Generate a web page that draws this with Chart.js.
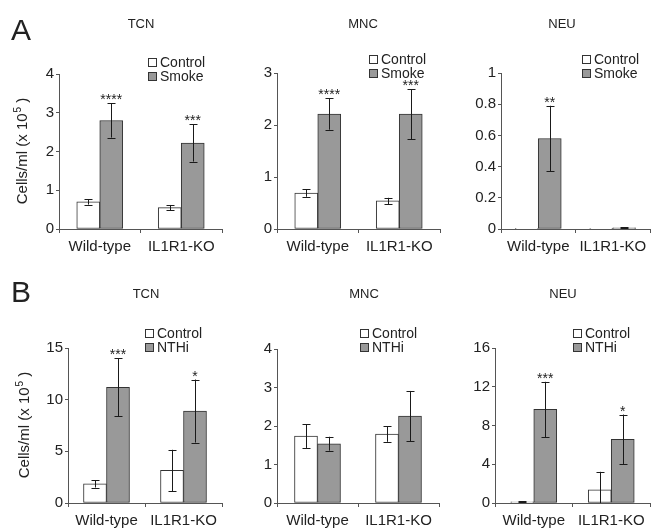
<!DOCTYPE html>
<html>
<head>
<meta charset="utf-8">
<script src="https://cdn.jsdelivr.net/npm/chart.js@4.4.0/dist/chart.umd.min.js"></script>
<style>
body { margin: 0; background: #fff; }
#wrap { position: relative; width: 660px; height: 530px; }
#wrap canvas { position: absolute; left: 0; top: 0; }
</style>
</head>
<body>
<div id="wrap"></div>
<script>
// categorias comunes
const groups = ['Wild-type', 'IL1R1-KO'];

// A - humo de cigarro
const tcnCtrlA = [0.70, 0.55];
const tcnCtrlErrA = [0.07, 0.07];
const tcnSmoke = [2.80, 2.22];
const tcnSmokeErr = [0.44, 0.48];
const tcnStarsA = ['****', '***'];

const mncCtrlA = [0.69, 0.54];
const mncCtrlErrA = [0.07, 0.06];
const mncSmoke = [2.21, 2.21];
const mncSmokeErr = [0.30, 0.48];
const mncStarsA = ['****', '***'];

const neuCtrlA = [0.002, 0.002];
const neuCtrlErrA = [0, 0];
const neuSmoke = [0.58, 0.008];
const neuSmokeErr = [0.21, 0.002];
const neuStarsA = ['**', ''];

// B - NTHi
const tcnCtrlB = [1.85, 3.15];
const tcnCtrlErrB = [0.35, 2.0];
const tcnNthi = [11.2, 8.9];
const tcnNthiErr = [2.8, 3.05];
const tcnStarsB = ['***', '*'];

const mncCtrlB = [1.74, 1.79];
const mncCtrlErrB = [0.31, 0.20];
const mncNthi = [1.54, 2.26];
const mncNthiErr = [0.18, 0.65];
const mncStarsB = ['', ''];

const neuCtrlB = [0.12, 1.37];
const neuCtrlErrB = [0.06, 1.85];
const neuNthi = [9.66, 6.58];
const neuNthiErr = [2.85, 2.55];
const neuStarsB = ['***', '*'];

const FONT = '"Liberation Sans", Arial, sans-serif';

const panels = [
    { title: 'TCN', trtName: 'Smoke', ctrl: tcnCtrlA, ctrlErr: tcnCtrlErrA, trt: tcnSmoke, trtErr: tcnSmokeErr, stars: tcnStarsA,
      max: 4, step: 1, L: 59, R: 222, T: 74, B: 229, titleX: 141, titleY: 28, legX: 148, legY: 67,
      letter: 'A', letterY: 40, yTitleX: 23 },
    { title: 'MNC', trtName: 'Smoke', ctrl: mncCtrlA, ctrlErr: mncCtrlErrA, trt: mncSmoke, trtErr: mncSmokeErr, stars: mncStarsA,
      max: 3, step: 1, L: 277, R: 440, T: 73, B: 229, titleX: 363, titleY: 28, legX: 369, legY: 64 },
    { title: 'NEU', trtName: 'Smoke', ctrl: neuCtrlA, ctrlErr: neuCtrlErrA, trt: neuSmoke, trtErr: neuSmokeErr, stars: neuStarsA,
      max: 1, step: 0.2, L: 501, R: 650, T: 73, B: 229, titleX: 562, titleY: 28, legX: 582, legY: 64 },
    { title: 'TCN', trtName: 'NTHi', ctrl: tcnCtrlB, ctrlErr: tcnCtrlErrB, trt: tcnNthi, trtErr: tcnNthiErr, stars: tcnStarsB,
      max: 15, step: 5, L: 68, R: 222, T: 348, B: 503, titleX: 146, titleY: 298, legX: 145, legY: 338,
      letter: 'B', letterY: 302, yTitleX: 25 },
    { title: 'MNC', trtName: 'NTHi', ctrl: mncCtrlB, ctrlErr: mncCtrlErrB, trt: mncNthi, trtErr: mncNthiErr, stars: mncStarsB,
      max: 4, step: 1, L: 277, R: 439, T: 349, B: 503, titleX: 364, titleY: 298, legX: 360, legY: 338 },
    { title: 'NEU', trtName: 'NTHi', ctrl: neuCtrlB, ctrlErr: neuCtrlErrB, trt: neuNthi, trtErr: neuNthiErr, stars: neuStarsB,
      max: 16, step: 4, L: 495, R: 650, T: 348, B: 503, titleX: 563, titleY: 298, legX: 573, legY: 338 }
];

// plugin: barras de error, asteriscos, titulo, leyenda
function annotations(p) {
    return {
        id: 'annot',
        afterDraw(chart) {
            const ctx = chart.ctx;
            const ys = chart.scales.y;
            ctx.save();
            // barras de error
            chart.data.datasets.forEach((ds, i) => {
                chart.getDatasetMeta(i).data.forEach((bar, j) => {
                    const e = ds.errors[j];
                    if (!e) return;
                    const v = ds.data[j];
                    const top = ys.getPixelForValue(v + e);
                    const bot = ys.getPixelForValue(Math.max(v - e, 0));
                    const x = Math.round(bar.x) + 0.5;
                    ctx.strokeStyle = '#1a1a1a';
                    ctx.lineWidth = 1;
                    ctx.beginPath();
                    ctx.moveTo(x, top); ctx.lineTo(x, bot);
                    ctx.moveTo(x - 4, Math.round(top) + 0.5); ctx.lineTo(x + 4, Math.round(top) + 0.5);
                    if (v - e > 0) {
                        ctx.moveTo(x - 4, Math.round(bot) + 0.5); ctx.lineTo(x + 4, Math.round(bot) + 0.5);
                    }
                    ctx.stroke();
                    // asteriscos sobre el grupo tratado
                    if (i === 1 && p.stars[j]) {
                        ctx.fillStyle = '#222';
                        ctx.font = '14px ' + FONT;
                        ctx.textAlign = 'center';
                        ctx.textBaseline = 'alphabetic';
                        ctx.fillText(p.stars[j], bar.x, top + 1);
                    }
                });
            });
            // titulo del panel
            ctx.fillStyle = '#222';
            ctx.font = '13px ' + FONT;
            ctx.textAlign = 'center';
            ctx.textBaseline = 'alphabetic';
            ctx.fillText(p.title, p.titleX, p.titleY);
            // leyenda
            ctx.font = '14px ' + FONT;
            ctx.textAlign = 'left';
            [['Control', '#ffffff'], [p.trtName, '#999999']].forEach((it, k) => {
                const by = p.legY + k * 14;
                ctx.fillStyle = it[1];
                ctx.fillRect(p.legX, by - 8, 8, 8);
                ctx.strokeStyle = '#333';
                ctx.strokeRect(p.legX + 0.5, by - 8.5, 8, 8);
                ctx.fillStyle = '#222';
                ctx.fillText(it[0], p.legX + 12, by);
            });
            // letra del panel y titulo del eje
            if (p.letter) {
                ctx.font = '30px ' + FONT;
                ctx.fillText(p.letter, 11, p.letterY);
                const cy = (p.T + p.B) / 2;
                ctx.translate(p.yTitleX, cy);
                ctx.rotate(-Math.PI / 2);
                ctx.textBaseline = 'middle';
                ctx.font = '15px ' + FONT;
                const a = 'Cells/ml (x 10', c = ' )';
                const wa = ctx.measureText(a).width, wc = ctx.measureText(c).width;
                ctx.font = '10px ' + FONT;
                const wb = ctx.measureText('5').width;
                let x0 = -(wa + wb + wc) / 2;
                ctx.font = '15px ' + FONT;
                ctx.fillText(a, x0, 0);
                ctx.font = '10px ' + FONT;
                ctx.fillText('5', x0 + wa + 1, -5);
                ctx.font = '15px ' + FONT;
                ctx.fillText(c, x0 + wa + wb + 1, 0);
            }
            ctx.restore();
        }
    };
}

const wrap = document.getElementById('wrap');

panels.forEach(p => {
    const canvas = document.createElement('canvas');
    canvas.width = 660;
    canvas.height = 530;
    wrap.appendChild(canvas);
    new Chart(canvas, {
        type: 'bar',
        data: {
            labels: groups,
            datasets: [{
                label: 'Control',
                data: p.ctrl,
                errors: p.ctrlErr,
                backgroundColor: '#ffffff',
                borderColor: '#333333',
                borderWidth: 1,
                borderSkipped: false,
                barThickness: 23
            }, {
                label: p.trtName,
                data: p.trt,
                errors: p.trtErr,
                backgroundColor: '#999999',
                borderColor: '#333333',
                borderWidth: 1,
                borderSkipped: false,
                barThickness: 23
            }]
        },
        options: {
            responsive: false,
            animation: false,
            events: [],
            layout: {
                padding: { left: p.L - 45, right: 660 - p.R, top: p.T, bottom: 530 - p.B - 30 }
            },
            plugins: {
                legend: { display: false },
                tooltip: { enabled: false }
            },
            scales: {
                x: {
                    offset: true,
                    grid: { offset: true, drawOnChartArea: false, tickLength: 4, color: '#555' },
                    border: { color: '#555' },
                    ticks: { color: '#222', font: { family: FONT, size: 15 }, padding: 5, maxRotation: 0 },
                    afterFit: s => { s.height = 30; }
                },
                y: {
                    min: 0,
                    max: p.max,
                    ticks: {
                        stepSize: p.step, color: '#222', font: { family: FONT, size: 15 }, padding: 2,
                        callback: v => String(Math.round(v * 10) / 10)
                    },
                    grid: { drawOnChartArea: false, tickLength: 3, color: '#555' },
                    border: { color: '#555' },
                    afterFit: s => { s.width = 45; }
                }
            }
        },
        plugins: [annotations(p)]
    });
});
</script>
</body>
</html>
